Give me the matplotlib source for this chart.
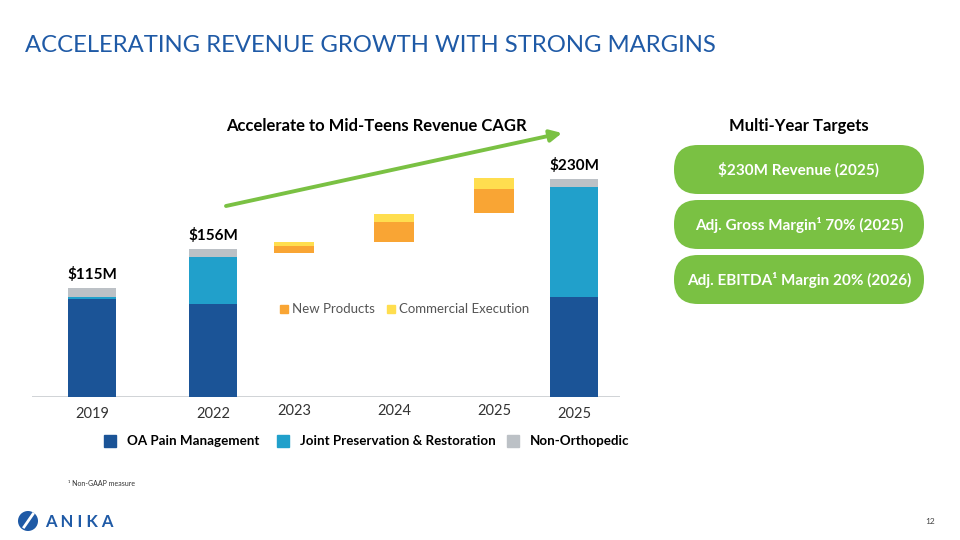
import matplotlib.pyplot as plt
from matplotlib.patches import FancyBboxPatch, Circle, Rectangle
import numpy as np

plt.rcParams['font.family'] = ['Lato', 'DejaVu Sans']

# stacked segments ($M) for the actual / target years
stack_years = ['2019', '2022', '2025']
oa_pain = [103, 98, 106]
joint_pres = [2, 50, 115]
non_ortho = [10, 8, 9]
totals = ['$115M', '$156M', '$230M']

# floating growth drivers ($M)
bridge_years = ['2023', '2024', '2025']
bridge_base = [152, 163.5, 194]
new_products = [7, 21, 25]
commercial_exec = [5, 9, 12]

targets = ['$230M Revenue (2025)',
           'Adj. Gross Margin\u00b9 70% (2025)',
           'Adj. EBITDA\u00b9 Margin 20% (2026)']

c_dark = '#1B5497'
c_light = '#21A0CB'
c_gray = '#BCC1C6'
c_orange = '#F9A534'
c_yellow = '#FFDE4F'
c_green = '#7AC143'

fig = plt.figure(figsize=(9.6, 5.4), dpi=100)

# overlay axes in pixel units for all the slide decoration
ov = fig.add_axes([0, 0, 1, 1])
ov.set_xlim(0, 960)
ov.set_ylim(540, 0)
ov.axis('off')

# chart axes: x = pixels from left, y = $M
ax = fig.add_axes([32 / 960, (540 - 397) / 540, (620 - 32) / 960, 267 / 540])
ax.set_xlim(32, 620)
ax.set_ylim(0, 267 / 0.948)
ax.axis('off')

stack_x = [92, 213, 574]
bridge_x = [294, 394, 494]

ax.bar(stack_x, oa_pain, width=48, color=c_dark)
ax.bar(stack_x, joint_pres, width=48, bottom=oa_pain, color=c_light)
b2 = np.array(oa_pain) + np.array(joint_pres)
ax.bar(stack_x, non_ortho, width=48, bottom=b2, color=c_gray)
for x, t, lab in zip(stack_x, b2 + np.array(non_ortho), totals):
    ax.text(x, t + 6, lab, ha='center', va='bottom', fontsize=11, fontweight='bold')

ax.bar(bridge_x, new_products, width=40, bottom=bridge_base, color=c_orange)
ax.bar(bridge_x, commercial_exec, width=40,
       bottom=np.array(bridge_base) + np.array(new_products), color=c_yellow)

ax.plot([32, 620], [0, 0], color='#C8CCD0', lw=1.2, zorder=0)

for x, y in zip(stack_x, stack_years):
    ov.text(x, 414, y, ha='center', va='center', fontsize=10.5, color='#333333')
for x, y in zip(bridge_x, bridge_years):
    ov.text(x, 411, y, ha='center', va='center', fontsize=10.5, color='#333333')

# inner legend
for x, col, lab in [(284, c_orange, 'New Products'), (391, c_yellow, 'Commercial Execution')]:
    ov.add_patch(Rectangle((x - 4, 305), 8, 8, color=col))
    ov.text(x + 8, 309, lab, ha='left', va='center', fontsize=9.5, color='#555555')

# growth arrow
ov.annotate('', xy=(562, 133), xytext=(226, 206),
            arrowprops=dict(arrowstyle='-|>,head_length=0.7,head_width=0.35', color=c_green, lw=2.8,
                            shrinkA=0, shrinkB=0))
ov.text(376, 126, 'Accelerate to Mid-Teens Revenue CAGR', ha='center', va='center',
        fontsize=12, fontweight='bold')

# bottom legend
for x, col, lab in [(110, c_dark, 'OA Pain Management'),
                    (283, c_light, 'Joint Preservation & Restoration'),
                    (513, c_gray, 'Non-Orthopedic')]:
    ov.add_patch(Rectangle((x - 6, 435), 12, 12, color=col))
    ov.text(x + 17, 441, lab, ha='left', va='center', fontsize=9.6, fontweight='bold')

# title
ov.text(25, 45, 'ACCELERATING REVENUE GROWTH WITH STRONG MARGINS', ha='left', va='center',
        fontsize=17.2, color='#1F5AA6')

# targets
ov.text(799, 126, 'Multi-Year Targets', ha='center', va='center', fontsize=12, fontweight='bold')
for i, t in enumerate(targets):
    top = 145 + i * 55
    box = FancyBboxPatch((674, top), 250, 49, boxstyle='round,pad=0,rounding_size=24',
                         facecolor=c_green, edgecolor='none')
    ov.add_patch(box)
    ov.text(799, top + 25, t, ha='center', va='center', fontsize=11, fontweight='bold', color='white')

# footnote, logo, page
ov.text(68, 484, '\u00b9 Non-GAAP measure', ha='left', va='center', fontsize=5, color='#333333')
ov.add_patch(Circle((28, 521), 10, facecolor='#1F5AA6', edgecolor='none'))
ov.plot([24, 33], [527, 514], color='white', lw=2)
ov.text(45, 522, 'A N I K A', ha='left', va='center', fontsize=12, fontweight='bold', color='#1F5AA6')
ov.text(930, 522, '12', ha='center', va='center', fontsize=6, color='#444444')

fig.savefig('out.png', dpi=100)
